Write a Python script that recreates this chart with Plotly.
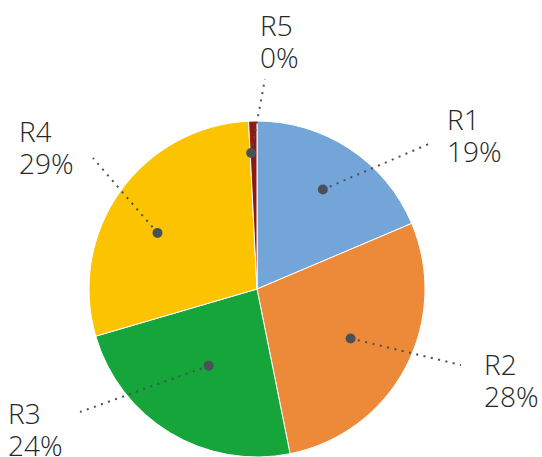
import math
import plotly.graph_objects as go

# ---- data ----
labels = ["R1", "R2", "R3", "R4", "R5"]
values = [18.6, 28.2, 23.6, 28.7, 0.8]
pct_labels = ["19%", "28%", "24%", "29%", "0%"]
colors = ["#74A5D8", "#EC8A3A", "#15A53A", "#FBC300", "#8C1C13"]

# ---- layout constants (pixels) ----
W, H = 542, 457
CX, CY, R = 257, 289, 168
FONT = "Open Sans"
FS = 28
LINE_COLOR = "#4A5058"

# callout geometry per slice: dot radius fraction, angle nudge (deg), leader end point,
# text left, cap-centre y of the two text lines
callouts = [
    dict(f=0.71, da=0, end=(431, 143), tx=446, ty=(119, 151)),
    dict(f=0.63, da=0, end=(461, 365), tx=483, ty=(364, 396)),
    dict(f=0.54, da=1, end=(80, 412), tx=7, ty=(413, 445)),
    dict(f=0.68, da=-6, end=(93, 158), tx=18, ty=(131, 163)),
    dict(f=0.81, da=-1, end=(265, 79), tx=259, ty=(25, 57)),
]


def px(x):
    return x / W


def py(y):
    return 1 - y / H


fig = go.Figure()
fig.add_trace(go.Pie(
    labels=labels, values=values, sort=False, direction="clockwise", rotation=0,
    marker=dict(colors=colors, line=dict(color="white", width=1)),
    textinfo="none", hoverinfo="skip", showlegend=False,
    domain=dict(x=[px(CX - R), px(CX + R)], y=[py(CY + R), py(CY - R)]),
))

total = sum(values)
cum = 0.0
shapes = []
annotations = []
for lab, v, pl, c in zip(labels, values, pct_labels, callouts):
    mid = (cum + v / 2) / total * 2 * math.pi + math.radians(c["da"])
    cum += v
    dx = CX + c["f"] * R * math.sin(mid)
    dy = CY - c["f"] * R * math.cos(mid)
    ex, ey = c["end"]
    shapes.append(dict(type="line", xref="paper", yref="paper",
                       x0=px(dx), y0=py(dy), x1=px(ex), y1=py(ey),
                       line=dict(color=LINE_COLOR, width=2, dash="2px,5.5px")))
    rr = 5
    shapes.append(dict(type="circle", xref="paper", yref="paper",
                       x0=px(dx - rr), x1=px(dx + rr), y0=py(dy + rr), y1=py(dy - rr),
                       fillcolor=LINE_COLOR, line=dict(width=0)))
    for txt, yy in zip([lab, pl], c["ty"]):
        annotations.append(dict(text=txt, x=px(c["tx"]), y=py(yy), xref="paper", yref="paper",
                                xanchor="left", yanchor="middle", showarrow=False,
                                height=30, valign="middle", borderpad=0,
                                font=dict(family=FONT, size=FS, color="#262626", weight=300)))

fig.update_layout(
    width=W, height=H, margin=dict(l=0, r=0, t=0, b=0),
    paper_bgcolor="white", plot_bgcolor="white",
    shapes=shapes, annotations=annotations,
)
fig.write_html("out.html", config={"displayModeBar": False},
               post_script="document.body.style.margin='0';document.body.style.overflow='hidden';")
